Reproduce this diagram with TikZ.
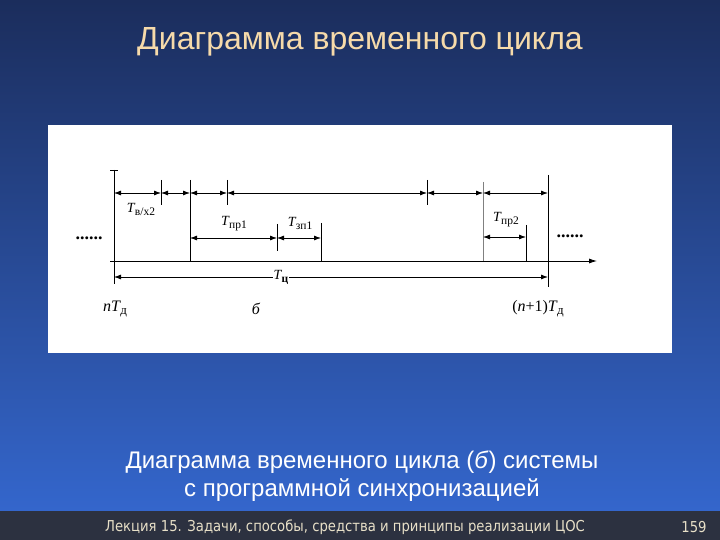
\documentclass[tikz,border=0pt]{standalone}
\usepackage{fontspec}
\setmainfont{Liberation Serif}
\newfontfamily\slidefont{Liberation Sans}
\newfontfamily\footfont{DejaVu Sans}
\usetikzlibrary{arrows.meta}
\definecolor{slidetop}{RGB}{27,45,92}
\definecolor{slidebottom}{RGB}{52,102,204}
\definecolor{footband}{RGB}{44,49,64}
\definecolor{titlebeige}{RGB}{246,218,170}
\definecolor{footbeige}{RGB}{232,224,200}
\newcommand{\Tsub}[2][11.5]{\textit{T}\kern-0.04em\raisebox{-3pt}{\fontsize{#1}{#1}\selectfont #2}}
\tikzset{
  cutline/.style={line width=0.8pt},
  dimline/.style={line width=0.8pt,{Latex[length=7pt,width=5pt]}-{Latex[length=7pt,width=5pt]}},
  lbl/.style={font=\fontsize{14}{15}\selectfont, inner sep=1pt},
  biglbl/.style={font=\fontsize{16}{18}\selectfont, inner sep=1pt},
  slidetext/.style={font=\slidefont\fontsize{24}{28}\selectfont, text=white, align=center},
  foottext/.style={font=\footfont\fontsize{15}{17}\selectfont, text=footbeige, xscale=0.88},
}

\begin{document}
\begin{tikzpicture}[x=1pt,y=-1pt]
\useasboundingbox (0,0) rectangle (720,540);
\shade[top color=slidetop,bottom color=slidebottom] (0,0) rectangle (720,511);
\fill[footband] (0,511) rectangle (720,540);
\fill[white] (48,125) rectangle (672,353);

\node[font=\slidefont\fontsize{32}{36}\selectfont, text=titlebeige] (title) at (360,42) {Диаграмма временного цикла};

% vertical marks
\foreach \n/\x/\a/\b in {v0/114/170/284, v1/161/180/205, v2/190/180/261, v3/227/180/205,
    v4/427/180/205, v6/548/175/287, m1/277/224/251, m2/321/223/261, m3/526/225/261} {
  \coordinate (\n-a) at (\x,\a);
  \coordinate (\n-b) at (\x,\b);
  \draw[cutline] (\n-a) -- (\n-b);
}
\coordinate (v5-a) at (483,182);
\coordinate (v5-b) at (483,261);
\draw[cutline,gray] (v5-a) -- (v5-b);
\coordinate (v0-l) at (110,170);
\coordinate (v0-r) at (118,170);
\draw[cutline] (v0-l) -- (v0-r);

% top row
\foreach \n/\x in {0/114,1/161,2/190,3/227,4/427,5/483,6/548}
  \coordinate (r\n) at (\x,193);
\foreach \i/\j in {0/1,1/2,2/3,3/4,4/5,5/6}
  \draw[dimline] (r\i) -- (r\j);

% middle row
\coordinate (p0) at (190,238);
\coordinate (p1) at (277,238);
\coordinate (p2) at (321,238);
\coordinate (q0) at (483,237);
\coordinate (q1) at (526,237);
\draw[dimline] (p0) -- (p1);
\draw[dimline] (p1) -- (p2);
\draw[dimline] (q0) -- (q1);

% time axis
\coordinate (axis-l) at (110,261);
\coordinate (axis-r) at (597,261);
\draw[cutline,-{Latex[length=8pt,width=5pt]}] (axis-l) -- (axis-r);

% cycle
\coordinate (cyc-l) at (114,277);
\coordinate (cyc-r) at (548,277);
\draw[dimline] (cyc-l) -- (cyc-r);
\node[lbl,fill=white] (Tc) at (281,277) {\Tsub{\bfseries ц}};

\node[lbl] (Tvx) at (141,209) {\Tsub{в/х2}};
\node[lbl] (Tpr1) at (234,224) {\Tsub{пр1}};
\node[lbl] (Tzp1) at (300,223) {\Tsub{зп1}};
\node[lbl] (Tpr2) at (506,220) {\Tsub{пр2}};
\node[lbl,font=\bfseries\fontsize{18}{18}\selectfont] (dots-l) at (89,238.5) {......};
\node[lbl,font=\bfseries\fontsize{18}{18}\selectfont] (dots-r) at (570,236.5) {......};
\node[biglbl] (nTd) at (115,309) {\textit{nT}\kern-0.04em\raisebox{-3pt}{\fontsize{13}{13}\selectfont д}};
\node[biglbl] (sub-b) at (256,309) {\textit{б}};
\node[biglbl] (n1Td) at (538,309) {(\textit{n}+1)\textit{T}\kern-0.04em\raisebox{-3pt}{\fontsize{13}{13}\selectfont д}};

\node[slidetext] (caption) at (362,476) {Диаграмма временного цикла (\textit{б}) системы\\с программной синхронизацией};

\node[foottext] (footer) at (345,527) {Лекция 15. Задачи, способы, средства и принципы реализации ЦОС};
\node[foottext] (pageno) at (694,527) {159};
\end{tikzpicture}
\end{document}
